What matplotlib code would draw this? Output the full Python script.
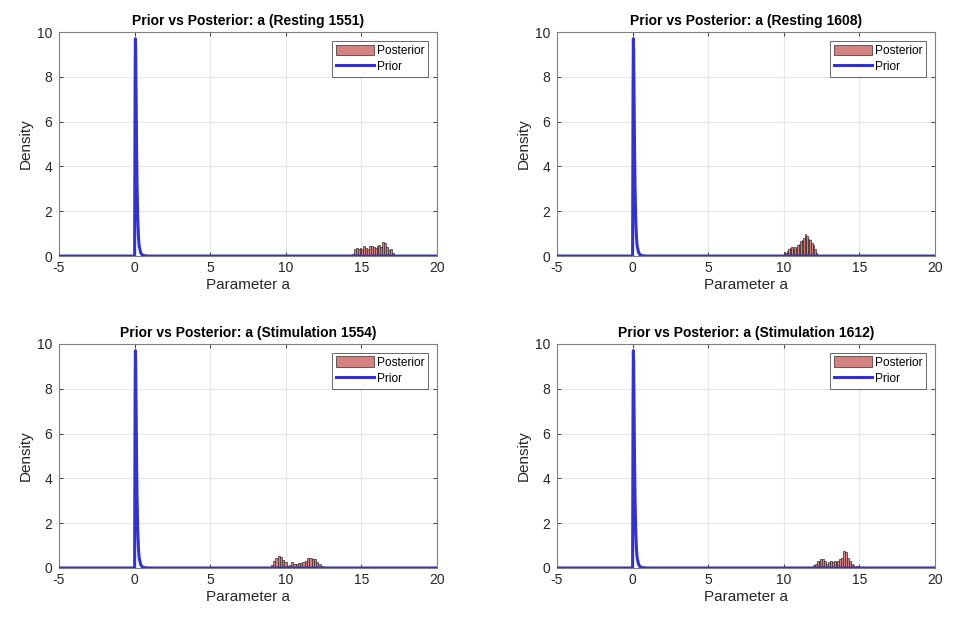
import numpy as np
import matplotlib
matplotlib.use("Agg")
import matplotlib.pyplot as plt

plt.rcParams['font.family'] = ['Liberation Sans', 'DejaVu Sans']
plt.rcParams['axes.unicode_minus'] = False

titles = ["Prior vs Posterior: a (Resting 1551)",
          "Prior vs Posterior: a (Resting 1608)",
          "Prior vs Posterior: a (Stimulation 1554)",
          "Prior vs Posterior: a (Stimulation 1612)"]

# Prior density curve (same in all panels)
prior_x = [-5, 0.0, 0.01, 0.03, 0.05, 0.07, 0.10, 0.13, 0.16, 0.20, 0.25, 0.30, 0.40, 0.50, 0.70, 1.0, 20]
prior_y = [0, 0, 2.5, 7.5, 9.7, 9.2, 7.0, 4.8, 3.2, 1.8, 0.9, 0.45, 0.15, 0.05, 0.01, 0, 0]

# Posterior histograms: start edge, bin width, density heights
post1_start, post1_w = 14.25, 0.125
post1_h = [0.03, 0.10, 0.30, 0.37, 0.33, 0.35, 0.30, 0.45, 0.35, 0.30, 0.45, 0.45,
           0.40, 0.35, 0.45, 0.50, 0.40, 0.63, 0.58, 0.40, 0.25, 0.30, 0.15, 0.05]

post2_start, post2_w = 9.9, 0.1
post2_h = [0.05, 0.20, 0.12, 0.22, 0.32, 0.38, 0.42, 0.30, 0.42, 0.38, 0.50, 0.55,
           0.65, 0.72, 0.82, 0.98, 0.90, 0.78, 0.70, 0.58, 0.50, 0.32, 0.12, 0.04]

post3_start, post3_w = 8.85, 0.15
post3_h = [0.03, 0.15, 0.30, 0.45, 0.55, 0.50, 0.35, 0.25, 0.10, 0.12, 0.25, 0.20,
           0.20, 0.22, 0.22, 0.25, 0.30, 0.45, 0.45, 0.40, 0.38, 0.25, 0.20, 0.10, 0.04]

post4_start, post4_w = 11.8, 0.125
post4_h = [0.05, 0.15, 0.20, 0.30, 0.30, 0.40, 0.38, 0.30, 0.20, 0.25, 0.30, 0.25,
           0.30, 0.28, 0.30, 0.40, 0.45, 0.75, 0.70, 0.45, 0.30, 0.20, 0.15, 0.05, 0.10]

posts = [(post1_start, post1_w, post1_h), (post2_start, post2_w, post2_h),
         (post3_start, post3_w, post3_h), (post4_start, post4_w, post4_h)]

xticks = [-5, 0, 5, 10, 15, 20]
yticks = [0, 2, 4, 6, 8, 10]

fig = plt.figure(figsize=(9.63, 6.23), dpi=100)
fig.patch.set_facecolor('white')

lefts = [0.0613, 0.5784]
bottoms = [0.589, 0.0883]
w, h = 0.3925, 0.3596

axcol = '#262626'
for i in range(4):
    r, c = divmod(i, 2)
    ax = fig.add_axes([lefts[c], bottoms[r], w, h])
    start, bw, heights = posts[i]
    edges = start + bw * np.arange(len(heights) + 1)
    centers = edges[:-1] + bw / 2
    ax.hist(centers, bins=edges, weights=heights, facecolor='#d38481',
            edgecolor='#3a2a2a', linewidth=0.5, label='Posterior', zorder=2)
    ax.plot(prior_x, prior_y, color='#3333cc', linewidth=2.2, label='Prior', zorder=3)
    ax.set_xlim(-5, 20)
    ax.set_ylim(0, 10)
    ax.set_xticks(xticks)
    ax.set_yticks(yticks)
    ax.grid(True, color='#e6e6e6', linewidth=0.8, zorder=0)
    ax.set_axisbelow(True)
    ax.tick_params(direction='in', length=3, colors=axcol, labelsize=10, width=0.6,
                   top=True, right=True, labeltop=False, labelright=False)
    ax.tick_params(axis='y', pad=5)
    for s in ax.spines.values():
        s.set_color('#7f7f7f')
        s.set_linewidth(0.8)
    ax.set_title(titles[i], fontsize=10, fontweight='bold', color='black', pad=5)
    ax.set_xlabel('Parameter a', fontsize=11, color=axcol, labelpad=2)
    ax.set_ylabel('Density', fontsize=11, color=axcol, labelpad=3)
    leg = ax.legend(loc='upper right', fontsize=8.6, frameon=True, fancybox=False,
                    edgecolor='#262626', borderaxespad=0.75, handlelength=3.2,
                    handleheight=1.0, borderpad=0.3, labelspacing=0.3,
                    handletextpad=0.25)
    leg.get_frame().set_linewidth(0.6)

fig.savefig('out.png', dpi=100, facecolor='white')
